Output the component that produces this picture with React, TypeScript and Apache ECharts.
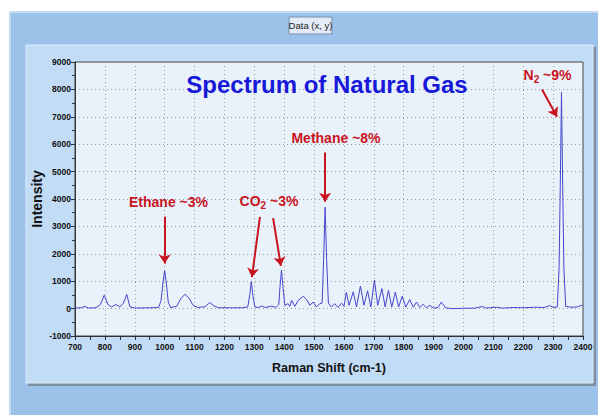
import React, { useEffect, useRef } from "react";
import * as echarts from "echarts";

// Raman shift (cm-1) sample positions
const ramanShift = [
  700, 720, 733, 745, 770, 785, 798, 810, 822, 837, 850, 862, 873, 884, 900, 950,
  980, 988, 994, 1000, 1006, 1012, 1020, 1040, 1055, 1068, 1082, 1095, 1110, 1135,
  1151, 1165, 1180, 1220, 1260, 1278, 1285, 1290, 1295, 1302, 1315, 1324, 1335, 1358,
  1372, 1382, 1386, 1391, 1396, 1402, 1413, 1419, 1425, 1436, 1447, 1464, 1475, 1486,
  1497, 1508, 1519, 1527, 1532, 1537, 1542, 1548, 1558, 1569, 1580, 1592, 1600, 1608,
  1617, 1631, 1642, 1655, 1667, 1679, 1690, 1702, 1713, 1727, 1738, 1749, 1760, 1772,
  1783, 1795, 1807, 1820, 1832, 1843, 1854, 1865, 1876, 1887, 1900, 1915, 1926, 1940,
  1960, 2000, 2040, 2063, 2075, 2110, 2130, 2170, 2200, 2240, 2270, 2289, 2300, 2314,
  2320, 2324, 2328, 2332, 2336, 2342, 2360, 2380, 2395, 2400,
];

// Intensity at each sample position
const intensity = [
  20, 30, 80, 20, 30, 150, 490, 150, 60, 150, 60, 200, 520, 60, 20, 30,
  40, 300, 900, 1390, 900, 250, 40, 80, 380, 520, 380, 120, 40, 70,
  220, 100, 30, 30, 30, 60, 500, 990, 500, 60, 40, 100, 40, 90,
  40, 150, 800, 1400, 800, 120, 180, 80, 300, 85, 300, 450, 330, 120,
  240, 60, 180, 200, 1800, 3700, 1800, 200, 60, 180, 40, 200, 80, 600,
  120, 610, 60, 820, 120, 650, 60, 1040, 120, 730, 60, 670, 60, 600,
  60, 450, 50, 330, 50, 240, 40, 160, 30, 120, 20, 40, 240, 30,
  0, 10, 20, 80, 20, 50, 20, 40, 30, 50, 40, 110, 40, 60,
  1500, 4500, 7890, 4500, 1500, 80, 50, 60, 120, 100,
];

const xMin = 700;
const xMax = 2400;
const xStep = 100;
const yMin = -1000;
const yMax = 9000;
const yStep = 1000;

const chartTitle = "Spectrum of Natural Gas";
const xName = "Raman Shift (cm-1)";
const yName = "Intensity";

// Annotation arrows: [start, end] in data coordinates
const arrowStarts = [
  [1000, 3350],
  [1319, 3350],
  [1363, 3300],
  [1537, 5700],
  [2263, 8000],
];
const arrowEnds = [
  [1000, 1650],
  [1292, 1150],
  [1389, 1560],
  [1537, 3900],
  [2313, 7000],
];

const RED = "#c8141e";
const FONT = "'Liberation Sans', Arial, Helvetica, sans-serif";
const NARROW = "'Liberation Sans Narrow', 'Arial Narrow', 'Liberation Sans', Arial, sans-serif";

export default function App() {
  const ref = useRef<HTMLDivElement>(null);

  useEffect(() => {
    document.body.style.margin = "0";
    const chart = echarts.init(ref.current!, null, { renderer: "svg" });
    const data = ramanShift.map((x, i) => [x, intensity[i]]);

    const annText = (x: number, y: number, text: string, rich = false) => ({
      type: "text",
      x,
      y,
      z: 100,
      style: {
        text,
        fill: RED,
        font: `bold 14px ${FONT}`,
        align: "center",
        verticalAlign: "middle",
        ...(rich
          ? {
              rich: {
                a: { fontSize: 14, fontWeight: "bold", fill: RED, fontFamily: FONT, lineHeight: 18 },
                s: { fontSize: 10, fontWeight: "bold", fill: RED, fontFamily: FONT, lineHeight: 18, padding: [8, 0, 0, 0] },
              },
            }
          : {}),
      },
    });

    chart.setOption({
      animation: false,
      backgroundColor: "#ffffff",
      textStyle: { fontFamily: FONT },
      graphic: [
        {
          type: "rect",
          z: -20,
          shape: { x: 10, y: 12, width: 592, height: 407 },
          style: { fill: "#9cc2ea", stroke: "#c4dbf3", lineWidth: 2 },
        },
        {
          type: "rect",
          z: -19,
          shape: { x: 28, y: 47, width: 568, height: 339 },
          style: { fill: "#7d8fa3" },
        },
        {
          type: "rect",
          z: -18,
          shape: { x: 26, y: 45, width: 567, height: 338 },
          style: { fill: "#c3dcf5", stroke: "#dcecfb", lineWidth: 1 },
        },
        {
          type: "rect",
          z: -17,
          shape: { x: 289, y: 17, width: 43, height: 17 },
          style: { fill: "#e2ebf6", stroke: "#7890ad", lineWidth: 1 },
        },
        {
          type: "text",
          z: -16,
          x: 310.5,
          y: 25.5,
          style: {
            text: "Data (x, y)",
            fill: "#222",
            font: `9.5px ${FONT}`,
            align: "center",
            verticalAlign: "middle",
          },
        },
        {
          type: "text",
          x: 327,
          y: 84,
          z: 100,
          style: {
            text: chartTitle,
            fill: "#1818d8",
            font: `bold 24px ${FONT}`,
            align: "center",
            verticalAlign: "middle",
          },
        },
        annText(168.5, 202, "Ethane ~3%"),
        annText(269, 201, "{a|CO}{s|2}{a| ~3%}", true),
        annText(336, 138, "Methane ~8%"),
        annText(547.5, 75, "{a|N}{s|2}{a| ~9%}", true),
      ],
      grid: {
        left: 75,
        top: 62,
        width: 508,
        height: 274,
        show: true,
        backgroundColor: "#e9f2fb",
        borderColor: "#444",
        borderWidth: 1,
      },
      xAxis: {
        type: "value",
        min: xMin,
        max: xMax,
        interval: xStep,
        name: xName,
        nameLocation: "middle",
        nameGap: 25,
        nameMoveOverlap: false,
        nameTextStyle: { fontSize: 12.5, fontWeight: "bold", color: "#111", fontFamily: FONT },
        axisLine: { show: true, onZero: false, lineStyle: { color: "#333", width: 1 } },
        axisTick: { show: true, inside: false, length: 4, lineStyle: { color: "#333" } },
        minorTick: { show: true, splitNumber: 2, length: 4, lineStyle: { color: "#333" } },
        axisLabel: {
          fontSize: 8.5,
          fontWeight: "bold",
          color: "#111",
          fontFamily: NARROW,
          margin: 6,
          formatter: (v: number) => String(v),
        },
        splitLine: { show: true, lineStyle: { color: "#9a9a9a", type: [1, 3], width: 1 } },
      },
      yAxis: {
        type: "value",
        min: yMin,
        max: yMax,
        interval: yStep,
        name: yName,
        nameLocation: "middle",
        nameRotate: 90,
        nameGap: 31,
        nameMoveOverlap: false,
        nameTextStyle: { fontSize: 14, fontWeight: "bold", color: "#111", fontFamily: FONT },
        axisLine: { show: true, lineStyle: { color: "#333", width: 1 } },
        axisTick: { show: true, inside: false, length: 4, lineStyle: { color: "#333" } },
        minorTick: { show: true, splitNumber: 2, length: 3, lineStyle: { color: "#333" } },
        axisLabel: {
          fontSize: 8.5,
          fontWeight: "bold",
          color: "#111",
          fontFamily: NARROW,
          margin: 4,
          formatter: (v: number) => String(v),
        },
        splitLine: { show: true, lineStyle: { color: "#9a9a9a", type: [1, 3], width: 1 } },
      },
      series: [
        {
          type: "line",
          data,
          showSymbol: false,
          smooth: false,
          lineStyle: { color: "#4646cc", width: 1 },
          markLine: {
            silent: true,
            symbol: ["none", "arrow"],
            symbolSize: 9,
            label: { show: false },
            lineStyle: { color: RED, width: 2, type: "solid" },
            data: arrowStarts.map((s, i) => [{ coord: s }, { coord: arrowEnds[i] }]),
          },
        },
      ],
    });
    return () => chart.dispose();
  }, []);

  return <div ref={ref} style={{ width: 598, height: 415 }} />;
}
